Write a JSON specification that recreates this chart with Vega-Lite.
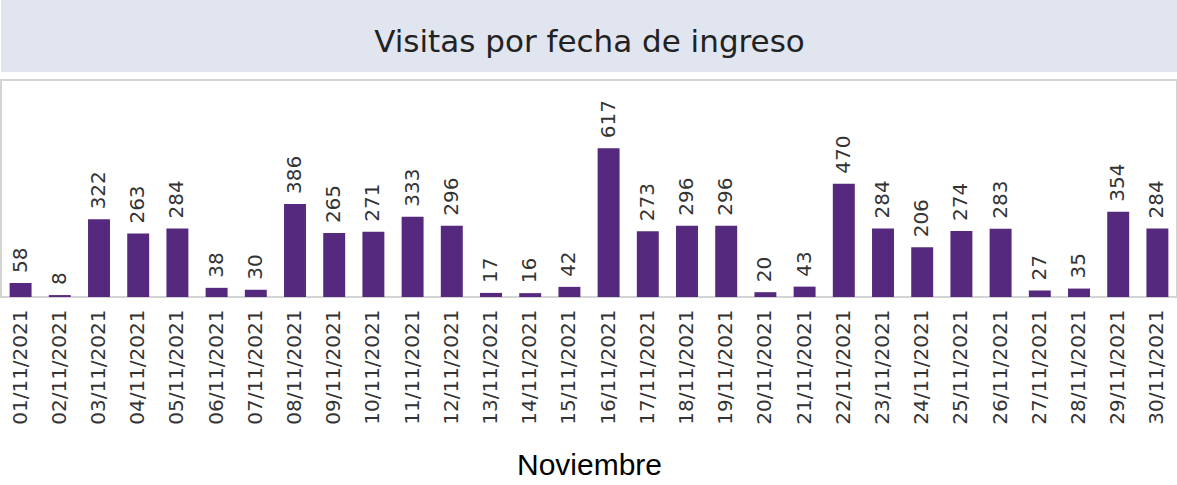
{
  "$schema": "https://vega.github.io/schema/vega-lite/v6.json",
  "padding": 0,
  "spacing": 7,
  "config": {"font": "DejaVu Sans"},
  "vconcat": [
    {
      "width": 1177,
      "height": 72,
      "view": {"fill": "#e1e5f0", "stroke": null},
      "data": {"values": [{"titulo": "Visitas por fecha de ingreso"}]},
      "mark": {"type": "text", "font": "DejaVu Sans", "fontSize": 31, "color": "#222", "align": "center", "baseline": "alphabetic", "dy": 16},
      "encoding": {"text": {"field": "titulo"}}
    },
    {
      "width": 1176,
      "height": 217,
      "view": {"stroke": "#d4d4d4", "strokeWidth": 2},
      "data": {"values": [
        {"fecha": "01/11/2021", "visitas": 58},
        {"fecha": "02/11/2021", "visitas": 8},
        {"fecha": "03/11/2021", "visitas": 322},
        {"fecha": "04/11/2021", "visitas": 263},
        {"fecha": "05/11/2021", "visitas": 284},
        {"fecha": "06/11/2021", "visitas": 38},
        {"fecha": "07/11/2021", "visitas": 30},
        {"fecha": "08/11/2021", "visitas": 386},
        {"fecha": "09/11/2021", "visitas": 265},
        {"fecha": "10/11/2021", "visitas": 271},
        {"fecha": "11/11/2021", "visitas": 333},
        {"fecha": "12/11/2021", "visitas": 296},
        {"fecha": "13/11/2021", "visitas": 17},
        {"fecha": "14/11/2021", "visitas": 16},
        {"fecha": "15/11/2021", "visitas": 42},
        {"fecha": "16/11/2021", "visitas": 617},
        {"fecha": "17/11/2021", "visitas": 273},
        {"fecha": "18/11/2021", "visitas": 296},
        {"fecha": "19/11/2021", "visitas": 296},
        {"fecha": "20/11/2021", "visitas": 20},
        {"fecha": "21/11/2021", "visitas": 43},
        {"fecha": "22/11/2021", "visitas": 470},
        {"fecha": "23/11/2021", "visitas": 284},
        {"fecha": "24/11/2021", "visitas": 206},
        {"fecha": "25/11/2021", "visitas": 274},
        {"fecha": "26/11/2021", "visitas": 283},
        {"fecha": "27/11/2021", "visitas": 27},
        {"fecha": "28/11/2021", "visitas": 35},
        {"fecha": "29/11/2021", "visitas": 354},
        {"fecha": "30/11/2021", "visitas": 284}
      ]},
      "encoding": {
        "x": {
          "field": "fecha",
          "type": "ordinal",
          "sort": null,
          "scale": {"paddingInner": 0.44, "paddingOuter": 0.22},
          "axis": {
            "title": "Noviembre",
            "labelAngle": -90,
            "labelFont": "DejaVu Sans",
            "labelFontSize": 20,
            "labelColor": "#333",
            "labelPadding": 12,
            "ticks": false,
            "domain": false,
            "titleFont": "Liberation Sans",
            "titleFontSize": 30,
            "titleFontWeight": "normal",
            "titleColor": "#000",
            "titlePadding": 26
          }
        },
        "y": {
          "field": "visitas",
          "type": "quantitative",
          "scale": {"domain": [0, 900], "nice": false},
          "axis": null
        }
      },
      "layer": [
        {"mark": {"type": "bar", "color": "#552a7e"}},
        {
          "mark": {"type": "text", "angle": 270, "align": "left", "baseline": "middle", "dx": 10, "font": "DejaVu Sans", "fontSize": 20, "color": "#333"},
          "encoding": {"text": {"field": "visitas", "type": "quantitative"}}
        }
      ]
    }
  ]
}
